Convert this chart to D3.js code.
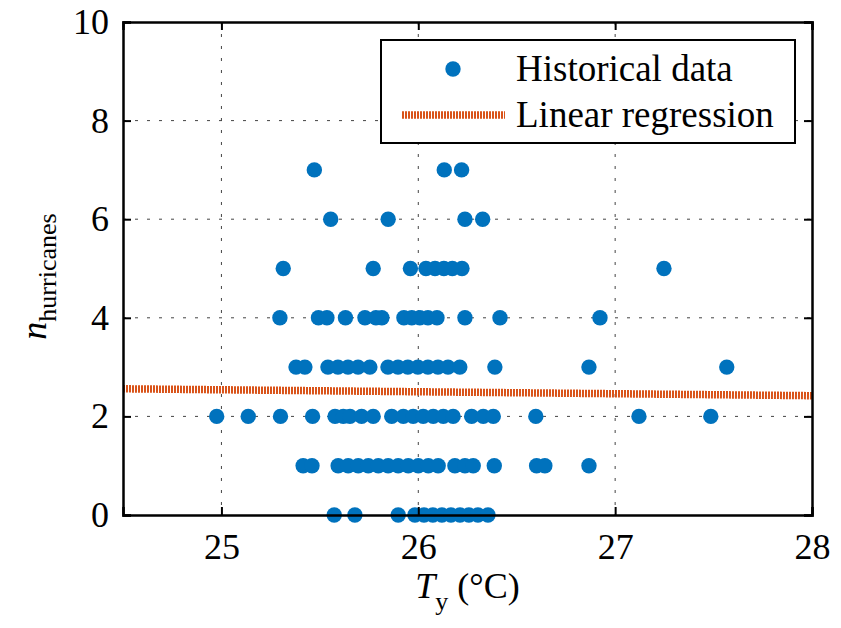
<!DOCTYPE html>
<html>
<head>
<meta charset="utf-8">
<script src="https://cdn.jsdelivr.net/npm/d3@7"></script>
<style>
  html, body { margin: 0; padding: 0; background: #fff; }
  svg { display: block; }
</style>
</head>
<body>
<svg id="chart" width="841" height="628"></svg>
<script>
// Annual mean temperature T_y (°C) and hurricane counts, grouped by count
const count0 = [25.573, 25.678, 25.898, 25.983, 26.029, 26.074, 26.120, 26.166, 26.212, 26.257, 26.303, 26.354];
const count1 = [25.415, 25.460, 25.593, 25.644, 25.695, 25.746, 25.797, 25.847, 25.898, 25.949, 26.000, 26.051,
                26.101, 26.186, 26.237, 26.279, 26.386, 26.601, 26.643, 26.867];
const count2 = [24.976, 25.136, 25.300, 25.463, 25.577, 25.619, 25.653, 25.712, 25.771, 25.865, 25.924, 25.974,
                26.025, 26.076, 26.127, 26.177, 26.271, 26.330, 26.381, 26.597, 27.121, 27.486];
const count3 = [25.379, 25.424, 25.541, 25.592, 25.643, 25.694, 25.754, 25.846, 25.897, 25.947, 25.998, 26.049,
                26.100, 26.151, 26.211, 26.389, 26.867, 27.567];
const count4 = [25.297, 25.493, 25.536, 25.630, 25.729, 25.785, 25.815, 25.927, 25.967, 26.008, 26.049, 26.095,
                26.237, 26.415, 26.923];
const count5 = [25.314, 25.771, 25.960, 26.039, 26.085, 26.130, 26.173, 26.222, 27.248];
const count6 = [25.555, 25.847, 26.237, 26.327];
const count7 = [25.472, 26.132, 26.220];

// Fitted regression line, given at the two ends of the temperature range
const regressionT = [24.5, 28];
const regressionN = [2.56, 2.42];

const xTicks = [25, 26, 27, 28];
const yTicks = [0, 2, 4, 6, 8, 10];
const legendLabels = ["Historical data", "Linear regression"];

const groups = [count0, count1, count2, count3, count4, count5, count6, count7];
const points = [];
groups.forEach((temps, n) => temps.forEach(t => points.push({ t, n })));

const svg = d3.select("#chart");
const plot = { left: 123, right: 812, top: 22, bottom: 515 };

const x = d3.scaleLinear().domain([24.5, 28]).range([plot.left, plot.right]);
const y = d3.scaleLinear().domain([0, 10]).range([plot.bottom, plot.top]);

const blue = "#0072BD";
const orange = "#D95319";
const serif = "'Liberation Serif', 'Times New Roman', serif";
const fontSize = 36;

// Dotted grid
const grid = svg.append("g");
grid.selectAll(".gx").data(xTicks.filter(d => d > 24.5 && d < 28)).join("line")
  .attr("x1", d => x(d)).attr("x2", d => x(d))
  .attr("y1", plot.top).attr("y2", plot.bottom)
  .attr("stroke", "#444").attr("stroke-width", 1).attr("stroke-dasharray", "3,9");
grid.selectAll(".gy").data(yTicks.filter(d => d > 0 && d < 10)).join("line")
  .attr("x1", plot.left).attr("x2", plot.right)
  .attr("y1", d => y(d)).attr("y2", d => y(d))
  .attr("stroke", "#444").attr("stroke-width", 1).attr("stroke-dasharray", "3,9");

// Regression line
const line = d3.line().x(d => x(d[0])).y(d => y(d[1]));
svg.append("path")
  .datum(regressionT.map((t, i) => [t, regressionN[i]]))
  .attr("d", line)
  .attr("fill", "none")
  .attr("stroke", orange)
  .attr("stroke-width", 7.5)
  .attr("stroke-dasharray", "2,1");

// Scatter points
svg.append("g").selectAll("circle").data(points).join("circle")
  .attr("cx", d => x(d.t))
  .attr("cy", d => y(d.n))
  .attr("r", 7.7)
  .attr("fill", blue);

// Axes (box with inward ticks on all sides)
const tickLen = 8;
const axBottom = d3.axisBottom(x).tickValues(xTicks).tickSize(-tickLen).tickPadding(18).tickFormat(d3.format("d"));
const axLeft = d3.axisLeft(y).tickValues(yTicks).tickSize(-tickLen).tickPadding(14).tickFormat(d3.format("d"));
const axTop = d3.axisTop(x).tickValues(xTicks).tickSize(-tickLen).tickFormat("");
const axRight = d3.axisRight(y).tickValues(yTicks).tickSize(-tickLen).tickFormat("");

function styleAxis(g) {
  g.attr("font-family", null).attr("font-size", null);
  g.select(".domain").attr("stroke", "#000").attr("stroke-width", 2.5);
  g.selectAll(".tick line").attr("stroke", "#000").attr("stroke-width", 2);
  g.selectAll(".tick text")
    .style("font-family", serif)
    .style("font-size", fontSize + "px")
    .attr("fill", "#000");
}
svg.append("g").attr("transform", `translate(0,${plot.bottom})`).call(axBottom).call(styleAxis);
svg.append("g").attr("transform", `translate(${plot.left},0)`).call(axLeft).call(styleAxis);
svg.append("g").attr("transform", `translate(0,${plot.top})`).call(axTop).call(styleAxis);
svg.append("g").attr("transform", `translate(${plot.right},0)`).call(axRight).call(styleAxis);

// Axis titles
const xTitle = svg.append("text")
  .attr("x", (plot.left + plot.right) / 2)
  .attr("y", 598)
  .attr("text-anchor", "middle")
  .style("font-family", serif)
  .style("font-size", fontSize + "px");
xTitle.append("tspan").attr("font-style", "italic").text("T");
xTitle.append("tspan").style("font-size", "26px").attr("dy", 12).text("y");
xTitle.append("tspan").attr("dy", -12).text(" (°C)");

const yTitle = svg.append("text")
  .attr("transform", `translate(46,${(plot.top + plot.bottom) / 2 + 8}) rotate(-90)`)
  .attr("text-anchor", "middle")
  .style("font-family", serif)
  .style("font-size", fontSize + "px");
yTitle.append("tspan").attr("font-style", "italic").text("n");
yTitle.append("tspan").style("font-size", "26px").attr("dy", 10).text("hurricanes");

// Legend
const legend = svg.append("g");
legend.append("rect")
  .attr("x", 381).attr("y", 40).attr("width", 414).attr("height", 103)
  .attr("fill", "#fff").attr("stroke", "#000").attr("stroke-width", 2);
legend.append("circle").attr("cx", 453).attr("cy", 69).attr("r", 7.7).attr("fill", blue);
legend.append("line")
  .attr("x1", 402).attr("x2", 505).attr("y1", 115).attr("y2", 115)
  .attr("stroke", orange).attr("stroke-width", 7.5).attr("stroke-dasharray", "2,1");
legend.selectAll(".lt").data(legendLabels).join("text")
  .attr("x", 516)
  .attr("y", (d, i) => 81 + i * 46)
  .style("font-family", serif)
  .style("font-size", "37px")
  .text(d => d);
</script>
</body>
</html>
